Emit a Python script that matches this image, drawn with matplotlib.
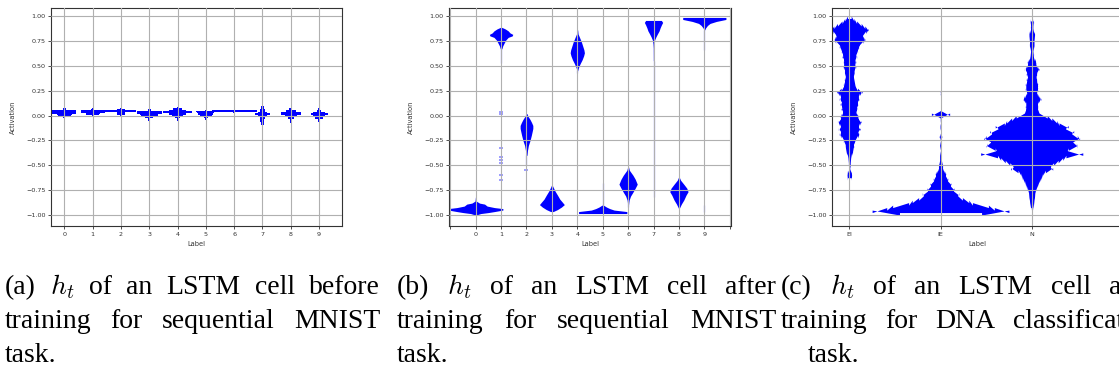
import numpy as np
import matplotlib
matplotlib.use("Agg")
import matplotlib.pyplot as plt

plt.rcParams["mathtext.fontset"] = "cm"
plt.rcParams["font.family"] = "DejaVu Sans"

W, H = 1119, 375
BLUE = "#0000ff"
LIGHT = "#8c8cff"

# ---------------- data ----------------
mnist_labels = [str(i) for i in range(10)]
dna_labels = ["EI", "IE", "N"]

# (a) before training: activation levels and histogram widths per digit
before_lv = [
    [-0.035, -0.02, -0.01, 0.0, 0.012, 0.025, 0.04, 0.055, 0.065, 0.08],
    [-0.005, 0.01, 0.02, 0.035, 0.05, 0.06, 0.075],
    [0.0, 0.015, 0.03, 0.04, 0.05, 0.06, 0.075],
    [-0.13, -0.1, -0.07, -0.04, -0.02, -0.005, 0.01, 0.025, 0.04, 0.055, 0.075, 0.09],
    [-0.055, -0.035, -0.015, 0.0, 0.015, 0.03, 0.04, 0.05, 0.065, 0.08, 0.09],
    [-0.06, -0.04, -0.02, 0.0, 0.015, 0.03, 0.045, 0.055],
    [0.03, 0.042, 0.05, 0.06],
    [-0.28, -0.2, -0.12, -0.08, -0.05, -0.02, 0.0, 0.015, 0.03, 0.05, 0.08, 0.11, 0.155],
    [-0.08, -0.05, -0.025, 0.0, 0.015, 0.03, 0.05, 0.065, 0.08],
    [-0.12, -0.08, -0.05, -0.02, 0.0, 0.015, 0.03, 0.05, 0.07, 0.09],
]
before_wd = [
    [0.03, 0.08, 0.3, 0.45, 0.52, 0.84, 0.84, 0.84, 0.1, 0.03],
    [0.04, 0.48, 0.5, 0.84, 0.84, 0.1, 0.03],
    [0.03, 0.26, 0.3, 1.1, 1.1, 0.26, 0.04],
    [0.02, 0.02, 0.03, 0.06, 0.3, 0.6, 0.65, 0.88, 0.88, 0.12, 0.04, 0.02],
    [0.02, 0.05, 0.15, 0.4, 0.6, 1.0, 1.0, 0.6, 0.3, 0.06, 0.02],
    [0.02, 0.05, 0.15, 0.4, 0.54, 0.6, 0.66, 0.05],
    [0.05, 1.58, 1.58, 0.04],
    [0.02, 0.02, 0.04, 0.08, 0.14, 0.2, 0.35, 0.5, 0.35, 0.15, 0.08, 0.04, 0.02],
    [0.02, 0.06, 0.2, 0.42, 0.7, 0.7, 0.36, 0.1, 0.03],
    [0.02, 0.04, 0.08, 0.26, 0.4, 0.6, 0.4, 0.14, 0.06, 0.02],
]

# (b) after training
after_lv = [
    [-1.0, -0.985, -0.975, -0.965, -0.95, -0.935, -0.925, -0.91, -0.89, -0.88, -0.86, -0.82],
    [0.67, 0.70, 0.73, 0.76, 0.785, 0.80, 0.815, 0.83, 0.85, 0.87, 0.885],
    [-0.4, -0.35, -0.3, -0.25, -0.2, -0.16, -0.13, -0.1, -0.07, -0.04, -0.01, 0.02],
    [-0.965, -0.945, -0.92, -0.895, -0.87, -0.84, -0.80, -0.76, -0.72, -0.70],
    [0.45, 0.48, 0.52, 0.56, 0.60, 0.63, 0.66, 0.70, 0.74, 0.78, 0.82, 0.86],
    [-0.985, -0.965, -0.95, -0.935, -0.92, -0.90],
    [-0.90, -0.85, -0.81, -0.77, -0.73, -0.69, -0.64, -0.6, -0.55, -0.515],
    [0.55, 0.68, 0.72, 0.76, 0.79, 0.82, 0.85, 0.88, 0.91, 0.935, 0.955],
    [-0.93, -0.89, -0.85, -0.80, -0.765, -0.73, -0.69, -0.65, -0.62],
    [0.86, 0.88, 0.905, 0.925, 0.945, 0.965, 0.985],
]
after_wd = [
    [0.03, 0.4, 1.0, 1.48, 2.14, 2.14, 1.48, 0.9, 0.7, 0.3, 0.05, 0.02],
    [0.06, 0.13, 0.25, 0.38, 0.56, 0.88, 0.92, 0.7, 0.56, 0.32, 0.06],
    [0.04, 0.08, 0.15, 0.28, 0.38, 0.45, 0.5, 0.5, 0.4, 0.28, 0.13, 0.03],
    [0.1, 0.44, 0.75, 0.98, 0.82, 0.62, 0.44, 0.25, 0.1, 0.03],
    [0.03, 0.09, 0.22, 0.38, 0.5, 0.56, 0.52, 0.42, 0.32, 0.19, 0.06, 0.03],
    [1.9, 1.9, 0.9, 0.55, 0.3, 0.05],
    [0.03, 0.08, 0.19, 0.38, 0.56, 0.72, 0.56, 0.38, 0.1, 0.03],
    [0.015, 0.02, 0.04, 0.09, 0.19, 0.31, 0.44, 0.52, 0.62, 0.72, 0.62],
    [0.04, 0.19, 0.38, 0.56, 0.72, 0.62, 0.38, 0.13, 0.03],
    [0.03, 0.1, 0.25, 0.45, 0.95, 1.7, 1.7],
]
after_tail_cat = [1, 2, 4, 5, 6, 7, 9, 9]
after_tail_lo = [0.53, -0.5, 0.43, -0.9, -0.92, -0.82, 0.66, -0.97]
after_tail_hi = [0.67, -0.4, 0.46, -0.68, -0.88, 0.55, 0.86, -0.9]
after_dot_cat = [1, 1, 1, 1, 1, 1, 1, 1, 2]
after_dot_y = [0.04, 0.02, -0.33, -0.42, -0.45, -0.48, -0.6, -0.65, -0.55]

# (c) DNA classification: histogram widths, top bin first, bins of 0.025
dna_bin = 0.025
dna_top = [0.9875, 0.2375, 0.9625]
dna_wd = [
    [0.04, 0.1, 0.16, 0.26, 0.34, 0.42, 0.36, 0.28, 0.3, 0.34, 0.3, 0.2, 0.22, 0.17,
     0.18, 0.13, 0.16, 0.11, 0.14, 0.11, 0.14, 0.1, 0.11, 0.1, 0.08, 0.11, 0.1, 0.13,
     0.12, 0.18, 0.28, 0.22, 0.18, 0.22, 0.16, 0.2, 0.15, 0.18, 0.13, 0.17, 0.2, 0.18,
     0.26, 0.22, 0.18, 0.24, 0.17, 0.22, 0.18, 0.12, 0.13, 0.08, 0.1, 0.07, 0.08, 0.05,
     0.03, 0.03, 0.02, 0.02, 0.02, 0.0, 0.04, 0.05, 0.05, 0.04],
    [0.015, 0.0, 0.0, 0.0, 0.0, 0.0, 0.0, 0.0, 0.0, 0.2, 0.0, 0.01, 0.0, 0.0, 0.02,
     0.0, 0.0, 0.0, 0.03, 0.0, 0.0, 0.02, 0.02, 0.0, 0.0, 0.02, 0.02, 0.02, 0.02,
     0.04, 0.05, 0.04, 0.08, 0.12, 0.1, 0.16, 0.14, 0.24, 0.2, 0.3, 0.26, 0.4, 0.36,
     0.48, 0.62, 0.7, 1.05, 1.18, 1.5, 0.9],
    [0.03, 0.04, 0.02, 0.03, 0.02, 0.05, 0.07, 0.05, 0.06, 0.04, 0.06, 0.04, 0.03,
     0.02, 0.04, 0.03, 0.06, 0.1, 0.08, 0.12, 0.16, 0.1, 0.12, 0.08, 0.12, 0.1, 0.14,
     0.12, 0.14, 0.1, 0.12, 0.16, 0.2, 0.14, 0.12, 0.14, 0.12, 0.16, 0.16, 0.34, 0.44,
     0.55, 0.6, 0.8, 0.7, 0.92, 0.85, 1.0, 1.05, 0.86, 0.98, 1.0, 0.8, 0.76, 1.12,
     0.75, 0.68, 0.58, 0.48, 0.38, 0.46, 0.3, 0.24, 0.22, 0.2, 0.16, 0.14, 0.12, 0.09,
     0.08, 0.06, 0.07, 0.05, 0.05, 0.04, 0.03, 0.02],
]

yticks = [-1.0, -0.75, -0.5, -0.25, 0.0, 0.25, 0.5, 0.75, 1.0]

captions = [
    ["(a) $h_t$ of an LSTM cell before", "training for sequential MNIST", "task."],
    ["(b) $h_t$ of an LSTM cell after", "training for sequential MNIST", "task."],
    ["(c) $h_t$ of an LSTM cell after", "training for DNA classification", "task."],
]

# ---------------- figure ----------------
fig = plt.figure(figsize=(W / 100, H / 100), dpi=100)


def add_ax(l, t, r, b):
    return fig.add_axes([l / W, 1 - b / H, (r - l) / W, (b - t) / H])


def style(ax, wpx):
    ax.set_ylim(-1.11, 1.08)
    ax.set_yticks(yticks)
    ax.grid(True, color="#b0b0b0", lw=0.8)
    ax.set_axisbelow(False)
    ax.tick_params(labelsize=4.6, length=2.5, width=0.6, pad=1.5, colors="#333333")
    for s in ax.spines.values():
        s.set_linewidth(0.8)
        s.set_color("#333333")
    ax.set_ylabel("Activation", fontsize=4.8, color="#333333")
    ax.set_xlabel("Label", fontsize=4.8, color="#333333")
    ax.yaxis.set_label_coords(-35.5 / wpx, 0.5)
    ax.xaxis.set_label_coords(0.5, -15.5 / 218)


def stepped(ax, x, lv, wd, h):
    lv = np.asarray(lv, float)
    wd = np.asarray(wd, float)
    y = np.repeat(lv, 2) + np.tile([-h / 2, h / 2], len(lv))
    w = np.repeat(wd, 2)
    ax.fill_betweenx(y, x - w / 2, x + w / 2, color=BLUE, lw=0, zorder=1)


# (a)
ax1 = add_ax(51, 8, 342, 226)
for i in range(10):
    lv = np.asarray(before_lv[i])
    wd = np.asarray(before_wd[i])
    ax1.fill_betweenx(lv, i - wd / 2, i + wd / 2, step="mid", color=BLUE, lw=0, zorder=1)
ax1.set_xlim(-0.47, 9.81)
ax1.set_xticks(range(10))
ax1.set_xticklabels(mnist_labels)
style(ax1, 291)

# (b)
ax2 = add_ax(449, 8, 731, 226)
for i in range(10):
    lv = np.asarray(after_lv[i])
    wd = np.asarray(after_wd[i])
    ax2.fill_betweenx(lv, i - wd / 2, i + wd / 2, color=BLUE, lw=0, zorder=1)
ax2.vlines(after_tail_cat, after_tail_lo, after_tail_hi, color=LIGHT, lw=0.9, zorder=1)
ax2.plot(after_dot_cat, after_dot_y, ls="", marker="_", ms=2.5, mew=1.2, color=LIGHT, zorder=1)
ax2.set_xlim(-1.05, 10.05)
ax2.set_xticks(range(-1, 11))
ax2.set_xticklabels([""] + mnist_labels + [""])
style(ax2, 282)

# (c)
ax3 = add_ax(832, 8, 1122, 226)
for i in range(3):
    lv = dna_top[i] - dna_bin * np.arange(len(dna_wd[i]))
    stepped(ax3, i, lv, dna_wd[i], dna_bin)
ax3.set_xlim(-0.19, 2.99)
ax3.set_xticks(range(3))
ax3.set_xticklabels(dna_labels)
style(ax3, 290)

# captions, justified like the paper
renderer = fig.canvas.get_renderer()
col_left = [5, 397, 781]
col_right = [380, 776, 1160]
last_left = [5, 397, 808]
baselines = [294, 328, 362]


def put_line(text, x0, x1, yb, justify):
    words = text.split(" ")
    ts = [fig.text(0, 1 - yb / H, w, fontsize=20, family="Liberation Serif",
                   va="baseline", ha="left") for w in words]
    widths = [t.get_window_extent(renderer).width for t in ts]
    if justify and len(words) > 1:
        gap = (x1 - x0 - sum(widths)) / (len(words) - 1)
    else:
        gap = 7
    x = x0
    for t, w in zip(ts, widths):
        t.set_x(x / W)
        x += w + gap


for k in range(3):
    for j, line in enumerate(captions[k]):
        x0 = col_left[k] if j < 2 else last_left[k]
        put_line(line, x0, col_right[k], baselines[j], j < 2)

fig.savefig("out.png", dpi=100)
